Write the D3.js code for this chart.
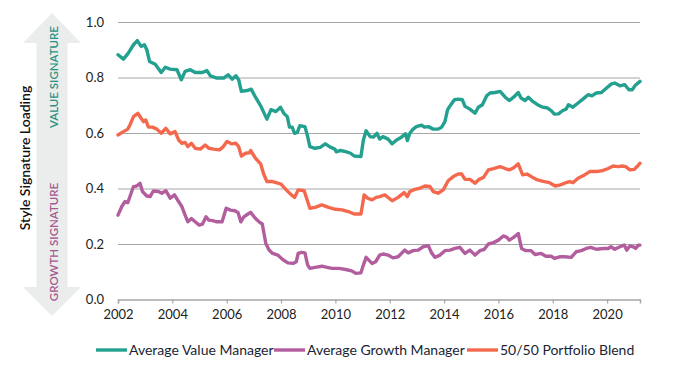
<!DOCTYPE html>
<html>
<head>
<meta charset="utf-8">
<script src="https://cdn.jsdelivr.net/npm/d3@7/dist/d3.min.js"></script>
<style>
  html, body { margin: 0; padding: 0; background: #fff; }
  #chart { width: 689px; height: 367px; }
</style>
</head>
<body>
<div id="chart"></div>
<script>
// decimal year / loading pairs
const valueManager = [
  [2002.00, 0.882], [2002.20, 0.866], [2002.38, 0.888], [2002.57, 0.918], [2002.71, 0.933],
  [2002.85, 0.912], [2002.97, 0.918], [2003.06, 0.900], [2003.16, 0.858], [2003.37, 0.848],
  [2003.59, 0.818], [2003.74, 0.837], [2003.92, 0.830], [2004.17, 0.828], [2004.33, 0.792],
  [2004.47, 0.822], [2004.66, 0.828], [2004.84, 0.818], [2005.11, 0.818], [2005.27, 0.825],
  [2005.40, 0.806], [2005.64, 0.798], [2005.89, 0.798], [2006.05, 0.810], [2006.20, 0.794],
  [2006.34, 0.806], [2006.44, 0.792], [2006.54, 0.750], [2006.75, 0.753], [2006.90, 0.758],
  [2007.06, 0.729], [2007.25, 0.698], [2007.35, 0.677], [2007.48, 0.650], [2007.63, 0.684],
  [2007.81, 0.677], [2007.98, 0.693], [2008.10, 0.671], [2008.23, 0.659], [2008.31, 0.621],
  [2008.41, 0.621], [2008.50, 0.599], [2008.60, 0.602], [2008.69, 0.626], [2008.88, 0.623],
  [2008.98, 0.587], [2009.06, 0.551], [2009.25, 0.545], [2009.44, 0.548], [2009.63, 0.561],
  [2009.81, 0.549], [2009.98, 0.542], [2010.03, 0.532], [2010.19, 0.537], [2010.38, 0.533],
  [2010.56, 0.527], [2010.69, 0.517], [2010.94, 0.515], [2011.03, 0.575], [2011.13, 0.608],
  [2011.28, 0.587], [2011.40, 0.585], [2011.53, 0.599], [2011.63, 0.578], [2011.75, 0.587],
  [2011.94, 0.578], [2012.09, 0.561], [2012.25, 0.575], [2012.43, 0.585], [2012.58, 0.597],
  [2012.65, 0.573], [2012.74, 0.599], [2012.86, 0.614], [2012.98, 0.623], [2013.17, 0.628],
  [2013.29, 0.621], [2013.42, 0.623], [2013.60, 0.614], [2013.78, 0.614], [2013.91, 0.621],
  [2014.03, 0.641], [2014.13, 0.684], [2014.25, 0.702], [2014.38, 0.720], [2014.52, 0.722],
  [2014.67, 0.720], [2014.77, 0.696], [2014.95, 0.686], [2015.14, 0.671], [2015.26, 0.693],
  [2015.41, 0.702], [2015.57, 0.734], [2015.69, 0.744], [2015.88, 0.746], [2016.06, 0.750],
  [2016.25, 0.729], [2016.40, 0.717], [2016.56, 0.729], [2016.73, 0.746], [2016.83, 0.726],
  [2016.98, 0.717], [2017.10, 0.729], [2017.26, 0.714], [2017.44, 0.702], [2017.63, 0.693],
  [2017.81, 0.690], [2017.94, 0.681], [2018.06, 0.668], [2018.21, 0.669], [2018.37, 0.681],
  [2018.49, 0.686], [2018.58, 0.702], [2018.74, 0.693], [2018.93, 0.708], [2019.11, 0.722],
  [2019.30, 0.738], [2019.44, 0.734], [2019.60, 0.744], [2019.79, 0.746], [2019.98, 0.762],
  [2020.16, 0.777], [2020.28, 0.780], [2020.47, 0.770], [2020.65, 0.774], [2020.80, 0.756],
  [2020.93, 0.756], [2021.02, 0.770], [2021.21, 0.786]
];

const growthManager = [
  [2002.00, 0.304], [2002.14, 0.335], [2002.26, 0.353], [2002.36, 0.349], [2002.44, 0.371],
  [2002.57, 0.407], [2002.69, 0.409], [2002.81, 0.419], [2002.90, 0.389], [2003.06, 0.373],
  [2003.18, 0.371], [2003.30, 0.391], [2003.49, 0.389], [2003.61, 0.383], [2003.76, 0.392],
  [2003.92, 0.365], [2004.08, 0.377], [2004.23, 0.353], [2004.35, 0.335], [2004.47, 0.304],
  [2004.57, 0.280], [2004.70, 0.292], [2004.84, 0.280], [2004.99, 0.268], [2005.11, 0.272],
  [2005.24, 0.298], [2005.34, 0.286], [2005.48, 0.284], [2005.64, 0.280], [2005.83, 0.280],
  [2005.98, 0.329], [2006.14, 0.322], [2006.30, 0.320], [2006.42, 0.313], [2006.52, 0.280],
  [2006.63, 0.298], [2006.81, 0.310], [2006.88, 0.314], [2007.06, 0.292], [2007.19, 0.280],
  [2007.31, 0.272], [2007.44, 0.202], [2007.56, 0.178], [2007.69, 0.166], [2007.88, 0.160],
  [2008.06, 0.144], [2008.25, 0.132], [2008.44, 0.130], [2008.56, 0.136], [2008.63, 0.166],
  [2008.75, 0.170], [2008.88, 0.168], [2008.98, 0.124], [2009.06, 0.112], [2009.25, 0.116],
  [2009.50, 0.120], [2009.69, 0.116], [2009.88, 0.112], [2010.13, 0.112], [2010.38, 0.108],
  [2010.60, 0.103], [2010.75, 0.094], [2010.94, 0.096], [2011.03, 0.124], [2011.13, 0.152],
  [2011.23, 0.142], [2011.35, 0.130], [2011.48, 0.136], [2011.63, 0.160], [2011.75, 0.164],
  [2011.94, 0.160], [2012.12, 0.150], [2012.31, 0.154], [2012.55, 0.178], [2012.68, 0.168],
  [2012.86, 0.176], [2013.05, 0.178], [2013.23, 0.190], [2013.42, 0.194], [2013.54, 0.168],
  [2013.66, 0.152], [2013.85, 0.160], [2014.03, 0.176], [2014.22, 0.178], [2014.40, 0.184],
  [2014.58, 0.188], [2014.77, 0.166], [2014.95, 0.178], [2015.14, 0.160], [2015.32, 0.176],
  [2015.48, 0.181], [2015.63, 0.200], [2015.82, 0.205], [2016.00, 0.214], [2016.18, 0.229],
  [2016.31, 0.224], [2016.40, 0.214], [2016.56, 0.224], [2016.73, 0.238], [2016.85, 0.184],
  [2017.01, 0.176], [2017.20, 0.176], [2017.35, 0.162], [2017.57, 0.166], [2017.75, 0.156],
  [2017.94, 0.156], [2018.06, 0.148], [2018.25, 0.154], [2018.43, 0.154], [2018.68, 0.152],
  [2018.86, 0.172], [2019.05, 0.176], [2019.23, 0.184], [2019.40, 0.188], [2019.60, 0.181],
  [2019.85, 0.184], [2020.04, 0.184], [2020.14, 0.190], [2020.28, 0.181], [2020.47, 0.190],
  [2020.63, 0.196], [2020.72, 0.178], [2020.84, 0.193], [2020.96, 0.190], [2021.05, 0.184],
  [2021.15, 0.196], [2021.21, 0.196]
];

const portfolioBlend = [
  [2002.00, 0.593], [2002.20, 0.605], [2002.36, 0.614], [2002.44, 0.629], [2002.57, 0.659],
  [2002.73, 0.671], [2002.85, 0.653], [2002.94, 0.641], [2003.02, 0.647], [2003.12, 0.621],
  [2003.27, 0.621], [2003.43, 0.614], [2003.59, 0.599], [2003.76, 0.617], [2003.92, 0.597],
  [2004.10, 0.605], [2004.23, 0.575], [2004.35, 0.563], [2004.47, 0.566], [2004.57, 0.551],
  [2004.70, 0.563], [2004.84, 0.545], [2005.03, 0.542], [2005.21, 0.557], [2005.34, 0.545],
  [2005.52, 0.542], [2005.73, 0.539], [2005.85, 0.548], [2006.01, 0.569], [2006.17, 0.561],
  [2006.34, 0.563], [2006.44, 0.551], [2006.54, 0.517], [2006.69, 0.527], [2006.84, 0.529],
  [2006.88, 0.537], [2007.06, 0.509], [2007.25, 0.489], [2007.35, 0.455], [2007.48, 0.425],
  [2007.69, 0.425], [2007.88, 0.419], [2008.00, 0.416], [2008.19, 0.395], [2008.38, 0.377],
  [2008.50, 0.368], [2008.63, 0.395], [2008.85, 0.392], [2008.98, 0.353], [2009.06, 0.329],
  [2009.25, 0.332], [2009.50, 0.341], [2009.75, 0.332], [2010.00, 0.325], [2010.25, 0.323],
  [2010.50, 0.316], [2010.69, 0.308], [2010.94, 0.308], [2011.06, 0.377], [2011.19, 0.365],
  [2011.35, 0.359], [2011.50, 0.368], [2011.63, 0.371], [2011.82, 0.377], [2012.09, 0.356],
  [2012.31, 0.368], [2012.53, 0.385], [2012.65, 0.371], [2012.74, 0.389], [2012.92, 0.397],
  [2013.11, 0.401], [2013.29, 0.409], [2013.48, 0.407], [2013.60, 0.389], [2013.78, 0.383],
  [2013.97, 0.395], [2014.15, 0.428], [2014.34, 0.443], [2014.52, 0.452], [2014.65, 0.452],
  [2014.77, 0.433], [2014.95, 0.433], [2015.14, 0.419], [2015.29, 0.433], [2015.45, 0.440],
  [2015.63, 0.467], [2015.82, 0.472], [2016.06, 0.479], [2016.25, 0.472], [2016.40, 0.467],
  [2016.56, 0.475], [2016.73, 0.489], [2016.89, 0.449], [2017.05, 0.452], [2017.26, 0.440],
  [2017.44, 0.431], [2017.69, 0.425], [2017.88, 0.421], [2018.09, 0.409], [2018.28, 0.413],
  [2018.43, 0.419], [2018.62, 0.425], [2018.74, 0.421], [2018.93, 0.437], [2019.17, 0.449],
  [2019.36, 0.461], [2019.60, 0.461], [2019.85, 0.465], [2020.04, 0.472], [2020.22, 0.481],
  [2020.41, 0.479], [2020.56, 0.481], [2020.68, 0.479], [2020.84, 0.467], [2021.00, 0.469],
  [2021.12, 0.481], [2021.21, 0.491]
];

const seriesNames = ["Average Value Manager", "Average Growth Manager", "50/50 Portfolio Blend"];
const seriesColors = ["#23a08f", "#b25e9e", "#f4694d"];
const yTicks = [0, 0.2, 0.4, 0.6, 0.8, 1.0];
const xTicks = [2002, 2004, 2006, 2008, 2010, 2012, 2014, 2016, 2018, 2020];
const axisTitle = "Style Signature Loading";
const upperLabel = "VALUE SIGNATURE";
const lowerLabel = "GROWTH SIGNATURE";

(function () {
  "use strict";

  const width = 689;
  const height = 367;
  const margin = { top: 22, right: 49, bottom: 67.5, left: 118 };
  const font = "'Source Sans Pro', Lato, 'Noto Sans', sans-serif";

  const svg = d3.select("#chart").append("svg")
    .attr("width", width)
    .attr("height", height)
    .style("font-family", font);

  const x = d3.scaleLinear().domain([2002, 2021.21]).range([margin.left, width - margin.right]);
  const y = d3.scaleLinear().domain([0, 1]).range([height - margin.bottom, margin.top]);

  // double arrow on the left
  const ax = 52;
  const arrow = d3.path();
  arrow.moveTo(ax, 13);
  arrow.lineTo(ax + 29, 43);
  arrow.lineTo(ax + 15.5, 43);
  arrow.lineTo(ax + 15.5, 287);
  arrow.lineTo(ax + 29, 287);
  arrow.lineTo(ax, 316);
  arrow.lineTo(ax - 29, 287);
  arrow.lineTo(ax - 15.5, 287);
  arrow.lineTo(ax - 15.5, 43);
  arrow.lineTo(ax - 29, 43);
  arrow.closePath();
  svg.append("path").attr("d", arrow.toString()).attr("fill", "#ebecec");

  svg.append("text")
    .attr("transform", "translate(" + (ax + 6) + ",77) rotate(-90)")
    .attr("text-anchor", "middle")
    .attr("font-size", 11.5)
    .attr("font-weight", 600)
    .attr("fill", "#2b9383")
    .text(upperLabel);

  svg.append("text")
    .attr("transform", "translate(" + (ax + 6) + ",242) rotate(-90)")
    .attr("text-anchor", "middle")
    .attr("font-size", 11.5)
    .attr("font-weight", 600)
    .attr("fill", "#a5598f")
    .text(lowerLabel);

  svg.append("text")
    .attr("transform", "translate(30,158) rotate(-90)")
    .attr("text-anchor", "middle")
    .attr("font-size", 14)
    .attr("font-weight", 600)
    .attr("fill", "#111")
    .text(axisTitle);

  // gridlines + y labels
  svg.append("g")
    .attr("transform", "translate(" + margin.left + ",0)")
    .call(d3.axisLeft(y).tickValues(yTicks).tickFormat(d3.format(".1f"))
      .tickSize(-(width - margin.left - margin.right)).tickPadding(14))
    .call(function (g) {
      g.select(".domain").remove();
      g.selectAll("line").attr("stroke", "#a6a6a6").attr("stroke-width", 1)
        .attr("display", function (d) { return d === 0 ? "none" : null; });
      g.selectAll("text").attr("fill", "#222").attr("font-size", 13).attr("font-family", font);
    });

  svg.append("g")
    .attr("transform", "translate(0," + y(0) + ")")
    .call(d3.axisBottom(x).tickValues(xTicks).tickFormat(d3.format("d")).tickSizeOuter(0).tickSize(4).tickPadding(6))
    .call(function (g) {
      g.select(".domain").attr("stroke", "#a6a6a6").attr("stroke-width", 1.5);
      g.selectAll("line").attr("stroke", "#a6a6a6").attr("stroke-width", 1.2);
      g.selectAll("text").attr("fill", "#222").attr("font-size", 13).attr("font-family", font);
    });

  const line = d3.line()
    .x(function (d) { return x(d[0]); })
    .y(function (d) { return y(d[1]); });

  const allSeries = [valueManager, growthManager, portfolioBlend];
  svg.append("g")
    .selectAll("path")
    .data(allSeries)
    .enter()
    .append("path")
    .attr("d", line)
    .attr("fill", "none")
    .attr("stroke", function (_, i) { return seriesColors[i]; })
    .attr("stroke-width", 3.4)
    .attr("stroke-linejoin", "round")
    .attr("stroke-linecap", "round");

  // legend
  const legendX = [96, 274, 467];
  const legend = svg.append("g").attr("transform", "translate(0,350)");
  const item = legend.selectAll("g")
    .data(seriesNames)
    .enter()
    .append("g")
    .attr("transform", function (_, i) { return "translate(" + legendX[i] + ",0)"; });

  item.append("line")
    .attr("x1", 0).attr("x2", 31).attr("y1", 0).attr("y2", 0)
    .attr("stroke", function (_, i) { return seriesColors[i]; })
    .attr("stroke-width", 3.4);

  item.append("text")
    .attr("x", 33)
    .attr("dy", "0.35em")
    .attr("font-size", 14)
    .attr("fill", "#1a2433")
    .text(function (d) { return d; });
})();
</script>
</body>
</html>
